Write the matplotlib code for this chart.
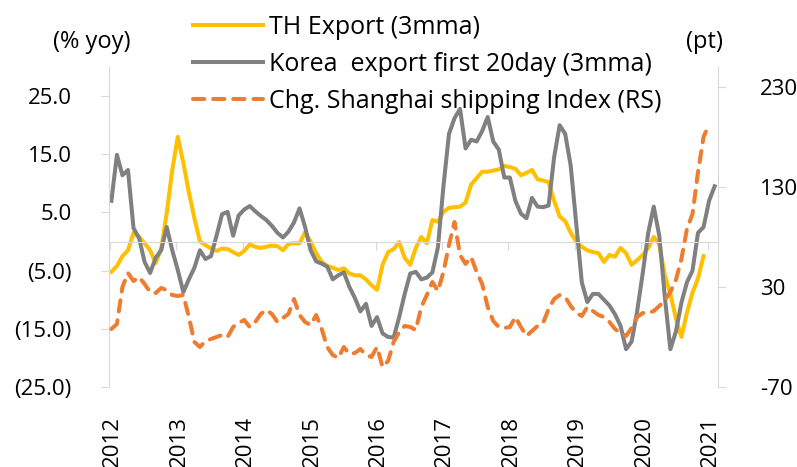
import numpy as np
import matplotlib
matplotlib.use("Agg")
import matplotlib.pyplot as plt
from matplotlib.transforms import blended_transform_factory
from matplotlib.ticker import FuncFormatter

plt.rcParams['font.family'] = ['Open Sans', 'DejaVu Sans']

# monthly values from Jan 2012
th_export = [-5.2, -4.2, -2.5, -1.5, 1.5, 0.8, -0.3, -1.5, -3.7, -1.2, 4.9, 12.3,
             18.0, 13.5, 8.5, 4.0, 0.0, -0.6, -1.2, -1.6, -1.2, -1.3, -1.8, -2.3,
             -1.6, -0.5, -0.9, -1.1, -0.9, -0.7, -0.8, -1.5, -0.4, -0.3, -0.3, 1.6,
             0.0, -2.0, -3.5, -4.2, -4.5, -4.9, -4.6, -5.5, -5.8, -5.8, -6.5, -7.5,
             -8.3, -4.0, -1.8, -1.3, -0.1, -2.8, -4.0, -1.1, 0.8, -0.3, 3.7, 3.4,
             5.1, 5.8, 5.9, 6.0, 6.7, 9.8, 10.9, 12.0, 12.0, 12.2, 12.4, 13.0,
             12.8, 12.5, 11.4, 11.8, 12.3, 10.7, 10.5, 10.2, 7.0, 4.3, 3.5, 1.5,
             0.0, -0.9, -1.5, -1.8, -2.0, -3.5, -2.3, -2.6, -1.1, -2.0, -4.0, -3.2,
             -2.3, -1.1, 0.8, -0.5, -5.8, -9.0, -13.2, -16.4, -12.2, -8.8, -6.3, -2.5]

korea_export = [7.0, 14.9, 11.4, 12.3, 2.3, 0.6, -3.5, -5.4, -2.8, -1.5, 2.5, -1.5,
                -4.9, -8.7, -6.5, -4.5, -1.5, -3.0, -2.5, 1.0, 4.7, 5.1, 1.0, 4.5,
                5.5, 6.1, 5.2, 4.4, 3.7, 2.7, 1.5, 0.7, 1.7, 3.3, 5.7, 2.5,
                -1.5, -3.4, -3.8, -4.3, -6.5, -5.8, -5.3, -7.8, -9.7, -12.0, -10.7, -14.5,
                -13.0, -15.8, -16.4, -16.5, -13.0, -9.0, -5.5, -5.2, -6.5, -6.2, -5.3, -1.0,
                9.5, 18.5, 21.2, 22.8, 16.0, 17.5, 17.2, 19.0, 21.4, 17.2, 15.8, 11.0,
                11.0, 7.0, 4.8, 4.0, 7.5, 6.0, 5.9, 6.2, 14.5, 20.0, 18.5, 13.0,
                3.0, -7.0, -10.4, -9.0, -9.0, -10.0, -11.0, -12.5, -14.5, -18.5, -17.2, -12.0,
                -5.5, 1.5, 6.0, 1.0, -9.5, -18.5, -15.5, -10.5, -7.0, -5.0, 1.5, 2.5,
                7.0, 9.5]

shanghai_idx = [-12, -7, 30, 44, 36, 40, 33, 25, 24, 29, 27, 22,
                21, 22, 0, -25, -30, -24, -22, -20, -18, -20, -10, -6,
                -3, -10, -5, 3, 7, 3, -5, -1, 3, 18, 2, -5,
                -8, 2, -12, -30, -38, -41, -30, -37, -36, -32, -38, -40,
                -30, -50, -44, -25, -15, -9, -10, -13, 10, 22, 35, 26,
                45, 72, 95, 62, 53, 60, 45, 33, 10, -4, -10, -11,
                -10, 0, -10, -19, -14, -9, -6, 8, 18, 22, 20, 11,
                4, 1, 10, 6, 2, 0, -5, -12, -16, -19, -11, 0,
                4, 4, 6, 11, 17, 25, 37, 58, 88, 103, 145, 180,
                193]

years = list(range(2012, 2022))
left_ticks = [-25, -15, -5, 5, 15, 25]
right_ticks = [-70, 30, 130, 230]


def month_x(n):
    return 2012 + (np.arange(n) + 0.25) / 12


fig = plt.figure(figsize=(7.97, 4.67), dpi=100)
ax = fig.add_axes([109 / 797, 80 / 467, 609 / 797, 320 / 467])
ax2 = ax.twinx()

grey_line = '#D9D9D9'

l1, = ax.plot(month_x(len(th_export)), th_export, color='#FFC000', lw=2.9,
              solid_joinstyle='round', label='TH Export (3mma)')
l2, = ax.plot(month_x(len(korea_export)), korea_export, color='#808080', lw=2.9,
              solid_joinstyle='round', label='Korea  export first 20day (3mma)')
l3, = ax2.plot(month_x(len(shanghai_idx)), shanghai_idx, color='#ED7D31', lw=2.9,
               dashes=(2.8, 2.2), dash_capstyle='round',
               label='Chg. Shanghai shipping Index (RS)')

ax.set_xlim(2011.985, 2021.155)
ax.set_ylim(-25, 30)
ax2.set_ylim(-70, 250)

ax.set_yticks(left_ticks)
ax.yaxis.set_major_formatter(FuncFormatter(
    lambda v, p: f'{v:.1f}' if v >= 0 else f'({abs(v):.1f})'))
ax2.set_yticks(right_ticks)
ax2.set_yticklabels([str(t) for t in right_ticks])

for s in ['top', 'right']:
    ax.spines[s].set_visible(False)
for s in ['top', 'bottom', 'left']:
    ax2.spines[s].set_visible(False)
ax.spines['left'].set_color(grey_line)
ax2.spines['right'].set_color(grey_line)
ax.spines['bottom'].set_position(('data', 0))
ax.spines['bottom'].set_color(grey_line)

ax.tick_params(axis='y', length=6, color=grey_line, pad=21, labelsize=16)
ax2.tick_params(axis='y', length=6, color=grey_line, pad=24, labelsize=16)
ax.set_xticks(years)
ax.tick_params(axis='x', length=6, color=grey_line, labelbottom=False)

trans = blended_transform_factory(ax.transData, ax.transAxes)
for y in years:
    ax.text(y + 0.04, -0.09, str(y), transform=trans, rotation=90,
            ha='center', va='top', fontsize=16)

fig.text(92 / 797, 1 - 42 / 467, '(% yoy)', ha='center', va='center', fontsize=17)
fig.text(704 / 797, 1 - 42 / 467, '(pt)', ha='center', va='center', fontsize=17)

fig.legend(handles=[l1, l2, l3], loc='upper left', bbox_to_anchor=(178 / 797, 1.0),
           frameon=False, fontsize=18, handlelength=2.8, handletextpad=0.25,
           labelspacing=0.48, borderaxespad=0.2)

fig.savefig('out.png', dpi=100)
